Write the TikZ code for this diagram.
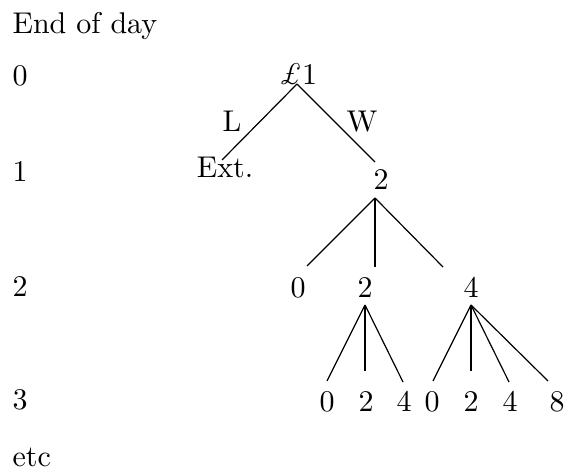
\documentclass[tikz,border=0pt]{standalone}
\begin{document}
\begin{tikzpicture}[x=0.3333pt,y=-0.3333pt,
  lbl/.style={inner sep=0pt,anchor=base},
  lft/.style={inner sep=0pt,anchor=base west},
  edge/.style={line width=0.4pt}]
\useasboundingbox (0,0) rectangle (567,469);
% left column
\node[lft] (title) at (12,34) {End of day};
\node[lft] (d0) at (12,86) {0};
\node[lft] (d1) at (12,182) {1};
\node[lft] (d2) at (12,296) {2};
\node[lft] (d3) at (12,409) {3};
\node[lft] (etc) at (12,466) {etc};
% tree nodes
\node[lbl] (root) at (298,85) {{\itshape £}1};
\node[lbl] (L) at (232,132) {L};
\node[lbl] (W) at (362,132) {W};
\node[lbl] (ext) at (225,178) {Ext.};
\node[lbl] (a) at (381,190) {2};
\node[lbl] (b0) at (298,297) {0};
\node[lbl] (b2) at (365,297) {2};
\node[lbl] (b4) at (471,297) {4};
\node[lbl] (c0) at (327,411) {0};
\node[lbl] (c1) at (366,411) {2};
\node[lbl] (c2) at (404,411) {4};
\node[lbl] (c3) at (432,411) {0};
\node[lbl] (c4) at (471,411) {2};
\node[lbl] (c5) at (510,411) {4};
\node[lbl] (c6) at (557,411) {8};
% connector end points
\coordinate (rootb) at (297,84);
\coordinate (extt) at (222,160);
\coordinate (at) at (375,162);
\coordinate (ab) at (375,198);
\coordinate (b0t) at (307,266);
\coordinate (b2t) at (375,267);
\coordinate (b4t) at (443,267);
\coordinate (b2b) at (365,305);
\coordinate (b4b) at (471,305);
\coordinate (c0t) at (327,381);
\coordinate (c1t) at (365,371);
\coordinate (c2t) at (403,382);
\coordinate (c3t) at (433,381);
\coordinate (c4t) at (471,371);
\coordinate (c5t) at (509,382);
\coordinate (c6t) at (548,381);
% connectors
\draw[edge] (rootb) -- (extt);
\draw[edge] (rootb) -- (at);
\draw[edge] (ab) -- (b0t);
\draw[edge] (ab) -- (b2t);
\draw[edge] (ab) -- (b4t);
\draw[edge] (b2b) -- (c0t);
\draw[edge] (b2b) -- (c1t);
\draw[edge] (b2b) -- (c2t);
\draw[edge] (b4b) -- (c3t);
\draw[edge] (b4b) -- (c4t);
\draw[edge] (b4b) -- (c5t);
\draw[edge] (b4b) -- (c6t);
\end{tikzpicture}
\end{document}
